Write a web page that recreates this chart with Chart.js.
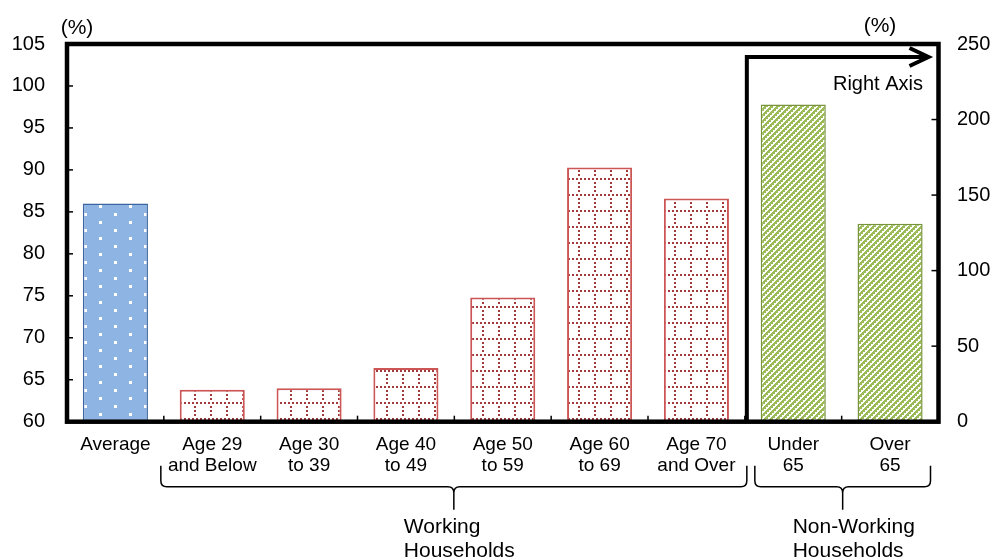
<!DOCTYPE html>
<html>
<head>
<meta charset="utf-8">
<script src="https://cdn.jsdelivr.net/npm/chart.js@4/dist/chart.umd.min.js"></script>
<style>
  html, body { margin: 0; padding: 0; background: #fff; }
  #wrap { width: 995px; height: 558px; }
</style>
</head>
<body>
<div id="wrap"><canvas id="c" width="995" height="558"></canvas></div>
<script>
// Household categories (two-line labels)
const categories = [
  ['Average'],
  ['Age 29', 'and Below'],
  ['Age 30', 'to 39'],
  ['Age 40', 'to 49'],
  ['Age 50', 'to 59'],
  ['Age 60', 'to 69'],
  ['Age 70', 'and Over'],
  ['Under', '65'],
  ['Over', '65']
];
// Left axis (%): average and working households by age
const leftAxisValues = [86.0, 63.8, 64.0, 66.4, 74.8, 90.3, 86.6, null, null];
// Right axis (%): non-working households
const rightAxisValues = [null, null, null, null, null, null, null, 210, 131];
// Axis ranges
const leftAxisRange = [60, 105, 5];
const rightAxisRange = [0, 250, 50];
// Group brackets below the category labels
const groupNames = [['Working', 'Households'], ['Non-Working', 'Households']];
const groupSpans = [[1, 6], [7, 8]];

const FONT = '"Liberation Sans", Arial, Helvetica, sans-serif';

function makeTile(w, h, paint) {
  const c = document.createElement('canvas');
  c.width = w; c.height = h;
  const g = c.getContext('2d');
  paint(g);
  return document.getElementById('c').getContext('2d').createPattern(c, 'repeat');
}

// Light blue with white staggered dots
const bluePattern = makeTile(30, 16, g => {
  g.fillStyle = '#8DB4E2'; g.fillRect(0, 0, 30, 16);
  g.fillStyle = '#ffffff';
  g.fillRect(9, 13, 3, 3);
  g.fillRect(24, 5, 3, 3);
});
// White with a dotted dark-red grid
const redPattern = makeTile(16, 16, g => {
  g.fillStyle = '#ffffff'; g.fillRect(0, 0, 16, 16);
  g.fillStyle = '#A33A3A';
  for (let i = 0; i < 16; i += 4) { g.fillRect(i, 2, 2, 2); }
  for (let j = 6; j < 16; j += 4) { g.fillRect(2, j, 2, 2); }
});
// Green diagonal stripes
const greenPattern = makeTile(12, 12, g => {
  g.fillStyle = '#ffffff'; g.fillRect(0, 0, 12, 12);
  g.fillStyle = '#9BBB59';
  for (let x = 0; x < 12; x++) {
    for (let y = 0; y < 12; y++) {
      if ((x + y) % 6 < 3 || ((x + y) % 12 === 3 && x % 2 === 0) || ((x + y) % 12 === 9 && x % 2 === 1)) g.fillRect(x, y, 1, 1);
    }
  }
});

const leftFills = leftAxisValues.map((v, i) => i === 0 ? bluePattern : redPattern);
const leftBorders = leftAxisValues.map((v, i) => i === 0 ? '#3B64A0' : '#CC5656');

function strokeLine(ctx, x1, y1, x2, y2) {
  ctx.beginPath(); ctx.moveTo(x1, y1); ctx.lineTo(x2, y2); ctx.stroke();
}

function drawBrace(ctx, x1, x2, yTop, yMid, yNotch) {
  const r = 6;
  const xc = (x1 + x2) / 2;
  ctx.beginPath();
  ctx.moveTo(x1, yTop);
  ctx.lineTo(x1, yMid - r);
  ctx.quadraticCurveTo(x1, yMid, x1 + r, yMid);
  ctx.lineTo(xc - r, yMid);
  ctx.quadraticCurveTo(xc, yMid, xc, yMid + r);
  ctx.lineTo(xc, yNotch);
  ctx.moveTo(xc, yMid + r);
  ctx.quadraticCurveTo(xc, yMid, xc + r, yMid);
  ctx.lineTo(x2 - r, yMid);
  ctx.quadraticCurveTo(x2, yMid, x2, yMid - r);
  ctx.lineTo(x2, yTop);
  ctx.stroke();
  return xc;
}

const annotate = {
  id: 'annotate',
  afterDraw(chart) {
    const { ctx, chartArea: a, scales } = chart;
    const x = scales.x, yl = scales.y, yr = scales.y2;
    const boundary = k => (x.getPixelForValue(Math.floor(k)) + x.getPixelForValue(Math.ceil(k))) / 2;
    ctx.save();
    ctx.strokeStyle = '#000';
    ctx.fillStyle = '#000';

    // inward tick marks
    ctx.lineWidth = 1.5;
    yl.ticks.forEach(t => { const p = yl.getPixelForValue(t.value); strokeLine(ctx, a.left, p, a.left + 6, p); });
    yr.ticks.forEach(t => { const p = yr.getPixelForValue(t.value); strokeLine(ctx, a.right, p, a.right - 7, p); });
    for (let i = 0; i < categories.length - 1; i++) {
      const p = boundary(i + 0.5);
      strokeLine(ctx, p, a.bottom, p, a.bottom - 6);
    }

    // plot frame
    ctx.lineWidth = 4.5;
    ctx.lineJoin = 'miter';
    ctx.strokeRect(a.left, a.top, a.right - a.left, a.bottom - a.top);

    // divider and arrow towards the right axis
    const dx = boundary(6.5) + 2;
    const ay = a.top + 13;
    const tipX = a.right - 10;
    ctx.lineWidth = 4;
    ctx.beginPath();
    ctx.moveTo(dx, a.bottom);
    ctx.lineTo(dx, ay);
    ctx.lineTo(tipX - 2, ay);
    ctx.stroke();
    ctx.beginPath();
    ctx.moveTo(tipX - 19, ay - 9);
    ctx.lineTo(tipX, ay);
    ctx.lineTo(tipX - 19, ay + 9);
    ctx.stroke();

    ctx.font = '20px ' + FONT;
    ctx.textAlign = 'right';
    ctx.textBaseline = 'alphabetic';
    ctx.fillText('Right Axis', a.right - 15.5, a.top + 46);

    // unit labels
    ctx.font = '21px ' + FONT;
    ctx.textAlign = 'center';
    ctx.fillText('(%)', a.left + 10, 34);
    ctx.fillText('(%)', a.right - 58.5, 32);

    // group brackets and names
    ctx.lineWidth = 1.5;
    ctx.lineJoin = 'round';
    groupSpans.forEach((span, gi) => {
      const x1 = gi === 0 ? boundary(span[0] - 0.5) - 3 : boundary(span[0] - 0.5) + 10;
      const x2 = gi === 0 ? boundary(span[1] + 0.5) + 2 : a.right - 8;
      const xc = drawBrace(ctx, x1, x2, a.bottom + 44, a.bottom + 65, a.bottom + 88);
      ctx.font = '21px ' + FONT;
      ctx.textAlign = 'left';
      ctx.fillText(groupNames[gi][0], xc - 50, 533);
      ctx.fillText(groupNames[gi][1], xc - 50, 557);
    });
    ctx.restore();
  }
};

new Chart(document.getElementById('c'), {
  type: 'bar',
  data: {
    labels: categories,
    datasets: [
      {
        data: leftAxisValues,
        yAxisID: 'y',
        grouped: false,
        backgroundColor: leftFills,
        borderColor: leftBorders,
        borderWidth: leftAxisValues.map((v, i) => i === 0 ? 1.5 : 2),
        barPercentage: 0.672,
        categoryPercentage: 1
      },
      {
        data: rightAxisValues,
        yAxisID: 'y2',
        grouped: false,
        backgroundColor: greenPattern,
        borderColor: '#77933C',
        borderWidth: 1.5,
        barPercentage: 0.672,
        categoryPercentage: 1
      }
    ]
  },
  options: {
    responsive: false,
    animation: false,
    events: [],
    layout: { padding: { top: 44, left: 0, right: 0, bottom: 0 } },
    plugins: { legend: { display: false }, tooltip: { enabled: false }, title: { display: false } },
    scales: {
      x: {
        type: 'category',
        offset: true,
        grid: { display: false, drawTicks: false },
        border: { display: false },
        ticks: {
          color: '#000', autoSkip: false, maxRotation: 0, minRotation: 0, padding: 13,
          font: { family: FONT, size: 19, lineHeight: 1.1 }
        },
        afterFit(s) { s.height = 136.3; }
      },
      y: {
        position: 'left',
        min: leftAxisRange[0], max: leftAxisRange[1],
        grid: { display: false, drawTicks: false },
        border: { display: false },
        ticks: { stepSize: leftAxisRange[2], color: '#000', padding: 22, font: { family: FONT, size: 20 } },
        afterFit(s) { s.width = 67; }
      },
      y2: {
        position: 'right',
        min: rightAxisRange[0], max: rightAxisRange[1],
        grid: { display: false, drawTicks: false },
        border: { display: false },
        ticks: { stepSize: rightAxisRange[2], color: '#000', padding: 18.5, font: { family: FONT, size: 20 } },
        afterFit(s) { s.width = 56.5; }
      }
    }
  },
  plugins: [annotate]
});
</script>
</body>
</html>
